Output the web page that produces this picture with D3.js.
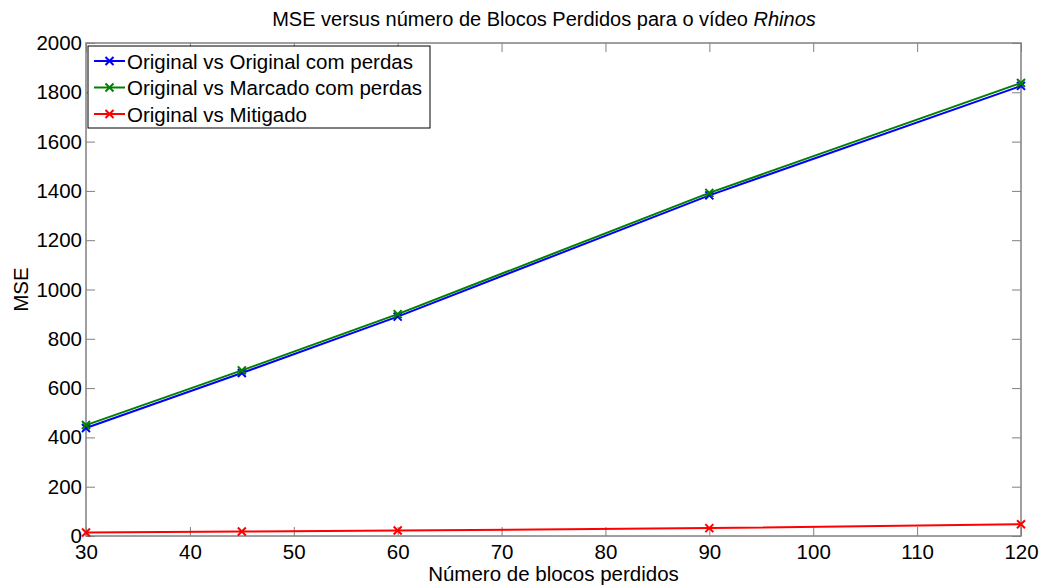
<!DOCTYPE html>
<html>
<head>
<meta charset="utf-8">
<script src="https://cdn.jsdelivr.net/npm/d3@7"></script>
<style>
body { margin: 0; background: #fff; }
text { font-family: "Liberation Sans", Arial, sans-serif; }
</style>
</head>
<body>
<script>
var width = 1043,
    height = 585;

var xValues = [30, 45, 60, 90, 120];
var seriesNames = ["Original vs Original com perdas", "Original vs Marcado com perdas", "Original vs Mitigado"];
var seriesColors = ["#0000ff", "#008000", "#ff0000"];
var origVsOrig = [438, 661, 890, 1382, 1826];
var origVsMarcado = [450, 672, 900, 1392, 1838];
var origVsMitigado = [14, 18, 22, 32, 48];
var xTicks = [30, 40, 50, 60, 70, 80, 90, 100, 110, 120];
var yTicks = [0, 200, 400, 600, 800, 1000, 1200, 1400, 1600, 1800, 2000];

var margin = {left: 86, right: 22, top: 43, bottom: 49};
var fontSize = 20.5;

var svg = d3.select("body").append("svg")
    .attr("width", width)
    .attr("height", height);

var x = d3.scaleLinear()
    .domain([30, 120])
    .range([margin.left, width - margin.right]);
var y = d3.scaleLinear()
    .domain([0, 2000])
    .range([height - margin.bottom, margin.top]);

// inward ticks on all four sides
var tickLen = 9;
svg.append("g")
    .attr("transform", "translate(0," + y(0) + ")")
    .call(d3.axisBottom(x).tickValues(xTicks).tickFormat(d3.format("d"))
        .tickSizeInner(-tickLen).tickSizeOuter(0).tickPadding(8))
    .call(function(g) { g.select(".domain").remove(); });
svg.append("g")
    .attr("transform", "translate(" + x(30) + ",0)")
    .call(d3.axisLeft(y).tickValues(yTicks).tickFormat(d3.format("d"))
        .tickSizeInner(-tickLen).tickSizeOuter(0).tickPadding(4))
    .call(function(g) { g.select(".domain").remove(); });
svg.append("g")
    .attr("transform", "translate(0," + y(2000) + ")")
    .call(d3.axisTop(x).tickValues(xTicks).tickSizeInner(-tickLen).tickSizeOuter(0).tickFormat(""))
    .call(function(g) { g.select(".domain").remove(); });
svg.append("g")
    .attr("transform", "translate(" + x(120) + ",0)")
    .call(d3.axisRight(y).tickValues(yTicks).tickSizeInner(-tickLen).tickSizeOuter(0).tickFormat(""))
    .call(function(g) { g.select(".domain").remove(); });

svg.selectAll(".tick line").attr("stroke", "#808080");
svg.selectAll(".tick text").attr("font-size", fontSize).attr("fill", "#000");

svg.append("rect")
    .attr("x", x(30)).attr("y", y(2000))
    .attr("width", x(120) - x(30)).attr("height", y(0) - y(2000))
    .attr("fill", "none").attr("stroke", "#808080").attr("stroke-width", 1.5);

var allSeries = [origVsOrig, origVsMarcado, origVsMitigado];
var line = d3.line()
    .x(function(d, i) { return x(xValues[i]); })
    .y(function(d) { return y(d); });

function cross(g, cx, cy, color) {
    var s = 4;
    g.append("path")
        .attr("d", "M" + (cx - s) + "," + (cy - s) + "L" + (cx + s) + "," + (cy + s) +
                   "M" + (cx - s) + "," + (cy + s) + "L" + (cx + s) + "," + (cy - s))
        .attr("stroke", color).attr("stroke-width", 2);
}

[2, 0, 1].forEach(function(k) {
    var g = svg.append("g");
    g.append("path")
        .datum(allSeries[k])
        .attr("d", line)
        .attr("fill", "none")
        .attr("stroke", seriesColors[k])
        .attr("stroke-width", 2);
    allSeries[k].forEach(function(v, i) {
        cross(g, x(xValues[i]), y(v), seriesColors[k]);
    });
});

// legend
var lg = svg.append("g").attr("transform", "translate(88,46)");
lg.append("rect")
    .attr("width", 342).attr("height", 82)
    .attr("fill", "#fff").attr("stroke", "#000").attr("stroke-width", 1);
seriesNames.forEach(function(name, i) {
    var ly = 15 + i * 26.5;
    lg.append("line")
        .attr("x1", 6).attr("x2", 37).attr("y1", ly).attr("y2", ly)
        .attr("stroke", seriesColors[i]).attr("stroke-width", 2);
    cross(lg, 21.5, ly, seriesColors[i]);
    lg.append("text")
        .attr("x", 39).attr("y", ly + 7.5)
        .attr("font-size", fontSize)
        .text(name);
});

// title and axis labels
var title = svg.append("text")
    .attr("x", 544).attr("y", 26)
    .attr("text-anchor", "middle")
    .attr("font-size", 20);
title.append("tspan").text("MSE versus número de Blocos Perdidos para o vídeo ");
title.append("tspan").attr("font-style", "italic").text("Rhinos");

svg.append("text")
    .attr("x", (x(30) + x(120)) / 2).attr("y", 581)
    .attr("text-anchor", "middle")
    .attr("font-size", fontSize)
    .text("Número de blocos perdidos");

svg.append("text")
    .attr("transform", "translate(28," + ((y(0) + y(2000)) / 2) + ") rotate(-90)")
    .attr("text-anchor", "middle")
    .attr("font-size", fontSize)
    .text("MSE");
</script>
</body>
</html>
